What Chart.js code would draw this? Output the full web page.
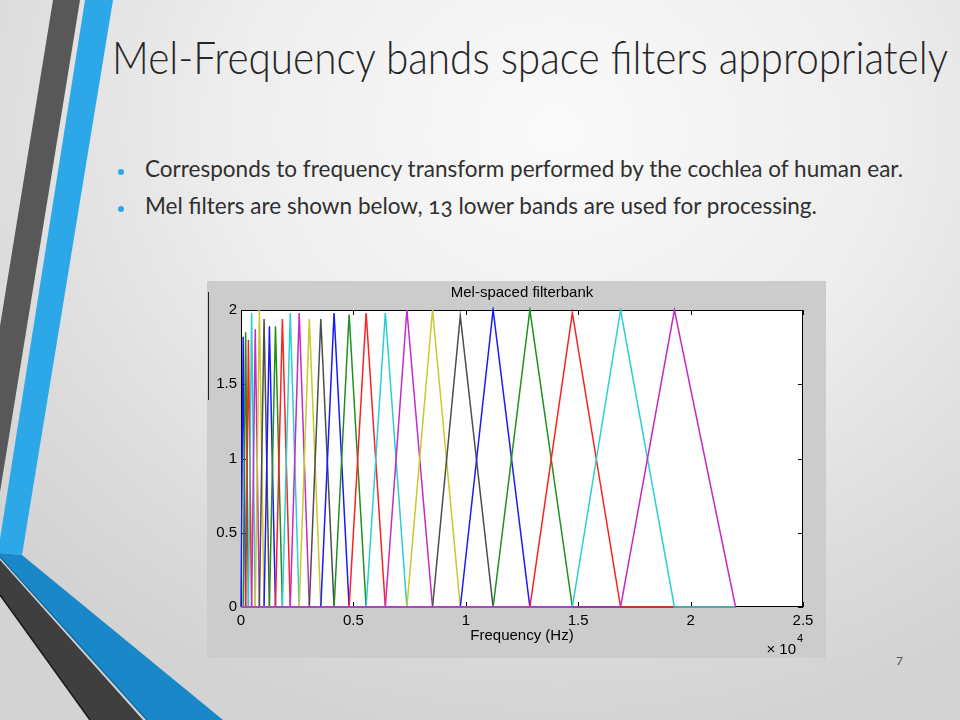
<!DOCTYPE html>
<html>
<head>
<meta charset="utf-8">
<script src="https://cdn.jsdelivr.net/npm/chart.js@4.4.1/dist/chart.umd.min.js"></script>
<style>
  html, body { margin: 0; padding: 0; width: 960px; height: 720px; overflow: hidden; }
  #slide {
    position: absolute; left: 0; top: 0; width: 960px; height: 720px; overflow: hidden;
    background: radial-gradient(ellipse 75% 85% at 58% 18%, #fafafa 0%, #eeeeee 45%, #dcdcdc 80%, #d3d3d3 100%);
    font-family: Lato, "Noto Sans", sans-serif;
  }
  #decor { position: absolute; left: 0; top: 0; }
  .line { position: absolute; white-space: nowrap; transform-origin: 0 0; color: #262626; line-height: 1.2; }
  #title { left: 112px; top: 31px; font-size: 44.7px; font-weight: 300; }
  .bul { left: 145px; font-size: 24px; font-weight: 400; font-variant-numeric: oldstyle-nums; color: #303030; }
  #b1 { top: 154px; }
  #b2 { top: 190.5px; }
  .dot { position: absolute; width: 6px; height: 6px; border-radius: 50%; background: #2ca8e9; }
  #pnum { position: absolute; left: 896px; top: 653px; font-size: 12px; color: #555; }
  #chartBox { position: absolute; left: 207px; top: 281px; width: 619px; height: 377px; background: #cccccc; }
  #artifact { position: absolute; left: 208px; top: 292px; width: 1px; height: 108px; background: #222; }
</style>
</head>
<body>
<div id="slide">
  <svg id="decor" width="960" height="720">
    <polygon points="53,0 80,0 0,492 0,326" fill="#585858"/>
    <polygon points="85,0 113,0 22,555 0,553 0,539" fill="#2ca8e9"/>
    <polygon points="0,553 22,555 223,720 147,720 0,557" fill="#1a88c8"/>
    <line x1="0" y1="557" x2="147" y2="720" stroke="#106da6" stroke-width="1.5"/>
    <polygon points="0,560 143,720 90,720 0,595" fill="#3f3f3f"/>
    <line x1="0" y1="595" x2="90" y2="720" stroke="#1a1a1a" stroke-width="1.5"/>
  </svg>

  <div class="line" id="title">Mel-Frequency bands space filters appropriately</div>
  <div class="dot" style="left:118px; top:169px;"></div>
  <div class="dot" style="left:118px; top:206px;"></div>
  <div class="line bul" id="b1">Corresponds to frequency transform performed by the cochlea of human ear.</div>
  <div class="line bul" id="b2">Mel filters are shown below, 13 lower bands are used for processing.</div>
  <div id="pnum">7</div>

  <div id="chartBox"><canvas id="c" width="619" height="377"></canvas></div>
  <div id="artifact"></div>
</div>

<script>
// ---- Data ----
// Band edge / centre frequencies in Hz (filter k rises from edge k, peaks at edge k+1, falls to edge k+2)
const filterEdgesHz = [0, 96, 206, 331, 472, 634, 817, 1026, 1264, 1534, 1841, 2191, 2589, 3040,
                       3550, 4140, 4810, 5566, 6420, 7380, 8520, 9755, 11215, 12850, 14740, 16885, 19280, 22000];
// Peak height of each of the 26 filters
const filterPeaks = [1.82, 1.85, 1.80, 1.98, 1.87, 2.00, 1.94, 1.89, 1.89, 1.94, 1.98, 1.98, 1.94,
                     1.94, 1.98, 1.97, 1.98, 1.98, 2.00, 2.00, 1.96, 2.00, 2.00, 1.98, 2.00, 2.00];
const xTickValues = [0, 5000, 10000, 15000, 20000, 25000];
const xTickLabels = ['0', '0.5', '1', '1.5', '2', '2.5'];
const yTickValues = [0, 0.5, 1, 1.5, 2];
const yTickLabels = ['0', '0.5', '1', '1.5', '2'];
const plotTitle = 'Mel-spaced filterbank';
const xAxisTitle = 'Frequency (Hz)';

// ---- Styles ----
const lineColors = ['#1a1aff', '#1f8f1f', '#ff2020', '#2ccfcf', '#c52bc5', '#c9c92a', '#4d4d4d'];
const axisFont = { family: '"Liberation Sans", Arial, sans-serif', size: 15 };

// ---- Fit slide text widths ----
function fitWidth(id, target) {
  const el = document.getElementById(id);
  const w = el.getBoundingClientRect().width;
  const s = target / w;
  el.style.transform = 'scaleX(' + s + ')';
  return s;
}
fitWidth('title', 836);
const sb = fitWidth('b1', 758);
document.getElementById('b2').style.transform = 'scaleX(' + sb + ')';

// ---- Build datasets (last filter first so it's drawn on top) ----
const lastHz = filterEdgesHz[filterEdgesHz.length - 1];
const datasets = [];
for (let k = filterPeaks.length - 1; k >= 0; k--) {
  datasets.push({
    label: 'filter ' + (k + 1),
    data: [
      { x: 0, y: 0 },
      { x: filterEdgesHz[k], y: 0 },
      { x: filterEdgesHz[k + 1], y: filterPeaks[k] },
      { x: filterEdgesHz[k + 2], y: 0 },
      { x: lastHz, y: 0 }
    ],
    borderColor: lineColors[k % lineColors.length],
    borderWidth: 1.5,
    pointRadius: 0,
    fill: false,
    tension: 0,
    clip: 3
  });
}

const matlabAxes = {
  id: 'matlabAxes',
  beforeDraw(chart) {
    const { ctx, chartArea: a } = chart;
    ctx.save();
    ctx.fillStyle = '#ffffff';
    ctx.fillRect(a.left, a.top, a.right - a.left, a.bottom - a.top);
    ctx.restore();
  },
  beforeDatasetsDraw(chart) {
    const { ctx, chartArea: a, scales: { x, y } } = chart;
    ctx.save();
    ctx.strokeStyle = '#000';
    ctx.lineWidth = 1;
    ctx.strokeRect(Math.round(a.left) + 0.5, Math.round(a.top) + 0.5,
                   Math.round(a.right - a.left) - 1, Math.round(a.bottom - a.top) - 1);
    const L = 5;
    ctx.beginPath();
    xTickValues.forEach(v => {
      const px = Math.round(x.getPixelForValue(v)) + 0.5;
      ctx.moveTo(px, a.bottom); ctx.lineTo(px, a.bottom - L);
      ctx.moveTo(px, a.top); ctx.lineTo(px, a.top + L);
    });
    yTickValues.forEach(v => {
      const py = Math.round(y.getPixelForValue(v)) + 0.5;
      ctx.moveTo(a.left, py); ctx.lineTo(a.left + L, py);
      ctx.moveTo(a.right, py); ctx.lineTo(a.right - L, py);
    });
    ctx.stroke();
    ctx.restore();
  },
  afterDraw(chart) {
    const { ctx, chartArea: a } = chart;
    ctx.save();
    ctx.fillStyle = '#000';
    ctx.font = '15px "Liberation Sans", Arial, sans-serif';
    ctx.textAlign = 'right';
    ctx.textBaseline = 'middle';
    ctx.fillText('\u00d7 10', a.right - 7, a.bottom + 43);
    ctx.font = '11px "Liberation Sans", Arial, sans-serif';
    ctx.textAlign = 'left';
    ctx.fillText('4', a.right - 6, a.bottom + 32);
    ctx.restore();
  }
};

new Chart(document.getElementById('c'), {
  type: 'line',
  data: { datasets },
  plugins: [matlabAxes],
  options: {
    responsive: false,
    animation: false,
    events: [],
    layout: { padding: { left: 0, right: 23, top: 0, bottom: 0 } },
    plugins: {
      legend: { display: false },
      tooltip: { enabled: false },
      title: {
        display: true, text: plotTitle, fullSize: false, color: '#000',
        font: { family: axisFont.family, size: 15, weight: 'normal', lineHeight: 1.2 },
        padding: { top: 3, bottom: 8 }
      }
    },
    scales: {
      x: {
        type: 'linear', min: 0, max: 25000,
        afterBuildTicks: s => { s.ticks = xTickValues.map(v => ({ value: v })); },
        afterFit: s => { s.height = 51; s.paddingLeft = 0; s.paddingRight = 0; },
        grid: { display: false, drawTicks: false }, border: { display: false },
        ticks: {
          autoSkip: false, maxRotation: 0, color: '#000', font: axisFont, padding: 5,
          callback: v => xTickLabels[xTickValues.indexOf(v)]
        },
        title: { display: true, text: xAxisTitle, color: '#000', font: axisFont, padding: { top: 0, bottom: 13 } }
      },
      y: {
        type: 'linear', min: 0, max: 2,
        afterBuildTicks: s => { s.ticks = yTickValues.map(v => ({ value: v })); },
        afterFit: s => { s.width = 34; s.paddingTop = 0; s.paddingBottom = 0; },
        grid: { display: false, drawTicks: false }, border: { display: false },
        ticks: {
          autoSkip: false, color: '#000', font: axisFont, padding: 4,
          callback: v => yTickLabels[yTickValues.indexOf(v)]
        }
      }
    }
  }
});
</script>
</body>
</html>
